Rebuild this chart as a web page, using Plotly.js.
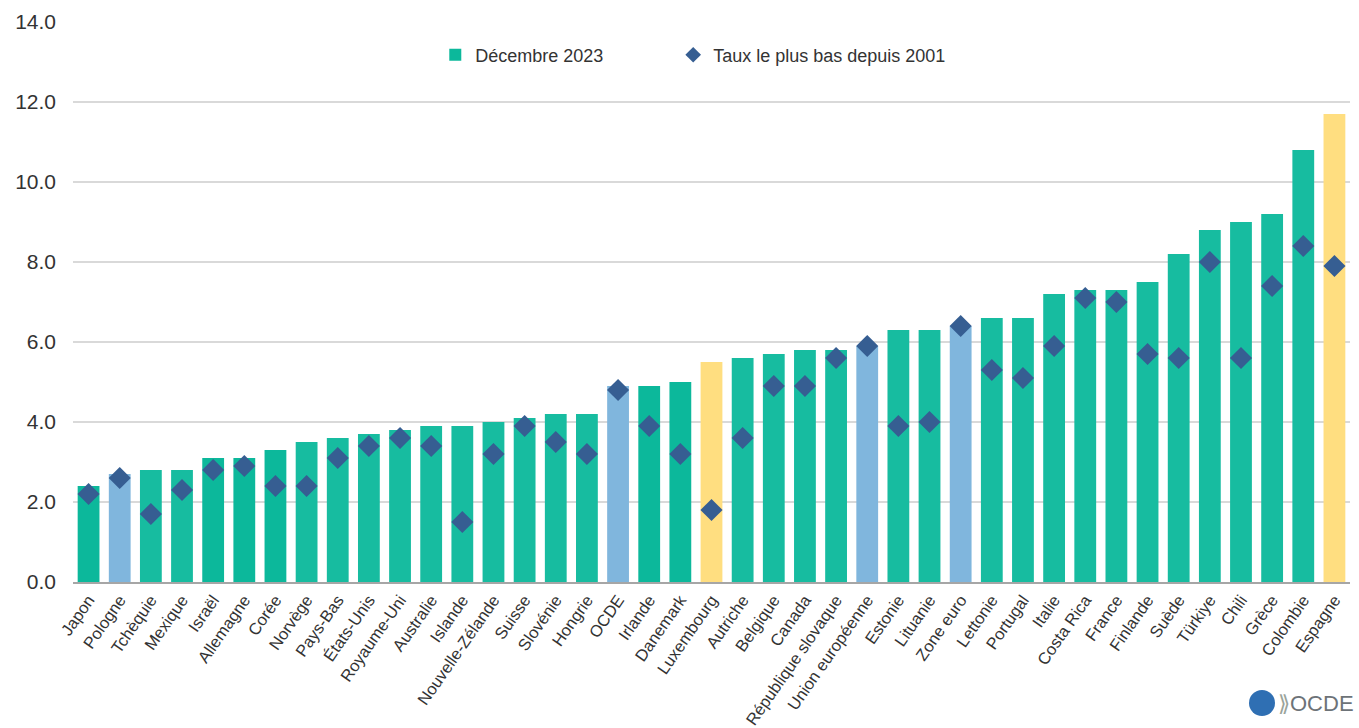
<!DOCTYPE html>
<html>
<head>
<meta charset="utf-8">
<script src="https://cdn.plot.ly/plotly-3.0.1.min.js"></script>
<style>html,body{margin:0;padding:0;background:#fff;}#chart{width:1359px;height:728px;}</style>
</head>
<body>
<div id="chart"></div>
<script>
const countries = ["Japon","Pologne","Tchèquie","Mexique","Israël","Allemagne","Corée","Norvège","Pays-Bas","États-Unis","Royaume-Uni","Australie","Islande","Nouvelle-Zélande","Suisse","Slovénie","Hongrie","OCDE","Irlande","Danemark","Luxembourg","Autriche","Belgique","Canada","République slovaque","Union européenne","Estonie","Lituanie","Zone euro","Lettonie","Portugal","Italie","Costa Rica","France","Finlande","Suède","Türkiye","Chili","Grèce","Colombie","Espagne"];
const dec2023 = [2.4,2.7,2.8,2.8,3.1,3.1,3.3,3.5,3.6,3.7,3.8,3.9,3.9,4.0,4.1,4.2,4.2,4.9,4.9,5.0,5.5,5.6,5.7,5.8,5.8,5.9,6.3,6.3,6.4,6.6,6.6,7.2,7.3,7.3,7.5,8.2,8.8,9.0,9.2,10.8,11.7];
const lowest2001 = [2.2,2.6,1.7,2.3,2.8,2.9,2.4,2.4,3.1,3.4,3.6,3.4,1.5,3.2,3.9,3.5,3.2,4.8,3.9,3.2,1.8,3.6,4.9,4.9,5.6,5.9,3.9,4.0,6.4,5.3,5.1,5.9,7.1,7.0,5.7,5.6,8.0,5.6,7.4,8.4,7.9];
const barGroup = ["d","b","t","t","d","d","d","t","t","t","t","t","t","t","t","t","t","b","d","d","y","t","t","t","t","b","t","t","b","t","t","t","t","t","t","t","t","t","t","t","y"];
const groupColors = {t:"#17bca0", d:"#0cb89b", b:"#80b6dd", y:"#ffde80"};
const barColors = barGroup.map(g => groupColors[g]);
const yTicks = [0,2,4,6,8,10,12,14];
const yTickText = yTicks.map(v => v.toFixed(1));

const font = "Liberation Sans, Arial, sans-serif";
const data = [
  {type:"bar", name:"Décembre 2023", x:countries, y:dec2023,
   marker:{color:barColors}, hoverinfo:"x+y", legend:"legend"},
  {type:"scatter", mode:"markers", name:"Taux le plus bas depuis 2001", x:countries, y:lowest2001,
   marker:{symbol:"diamond", size:17, color:"#365e92"}, hoverinfo:"x+y", legend:"legend2"}
];
const legendBase = {orientation:"h", xanchor:"left", y:0.941, yanchor:"middle",
  font:{size:18, color:"#333333"}, bgcolor:"rgba(0,0,0,0)", itemsizing:"constant"};
const layout = {
  width:1359, height:728,
  margin:{l:73, r:9, t:22, b:146},
  paper_bgcolor:"#fff", plot_bgcolor:"#fff",
  font:{family:font, color:"#333333", size:16},
  bargap:0.3,
  showlegend:true,
  legend:Object.assign({}, legendBase, {x:0.2837}),
  legend2:Object.assign({}, legendBase, {x:0.47}),
  xaxis:{type:"category", range:[-0.5, countries.length-0.5], tickangle:-55, tickfont:{size:16.5, color:"#333333"},
         showgrid:false, showline:true, linecolor:"#a6a6a6", linewidth:2, ticks:"", automargin:false},
  yaxis:{range:[0,14], tickvals:yTicks, ticktext:yTickText, tickfont:{size:21, color:"#333333"},
         showgrid:true, gridcolor:"#d9d9d9", gridwidth:1.5, zeroline:false, showline:false, ticks:"", ticklen:0,
         ticklabelstandoff:16, automargin:false},
  shapes:[
    {type:"circle", xref:"paper", yref:"paper", xsizemode:"pixel", ysizemode:"pixel", xanchor:0, yanchor:0,
     x0:1176, x1:1202, y0:-134, y1:-108, fillcolor:"#2f6fb3", line:{width:0}}
  ],
  annotations:[
    {xref:"paper", yref:"paper", x:1, y:0, xanchor:"right", yanchor:"middle", yshift:-121, xshift:6,
     text:"<span style='color:#9aa39a'>⟫</span>OCDE", showarrow:false, font:{size:22, color:"#6d7378", family:font}}
  ]
};
Plotly.newPlot("chart", data, layout, {displayModeBar:false, staticPlot:true});
</script>
</body>
</html>
